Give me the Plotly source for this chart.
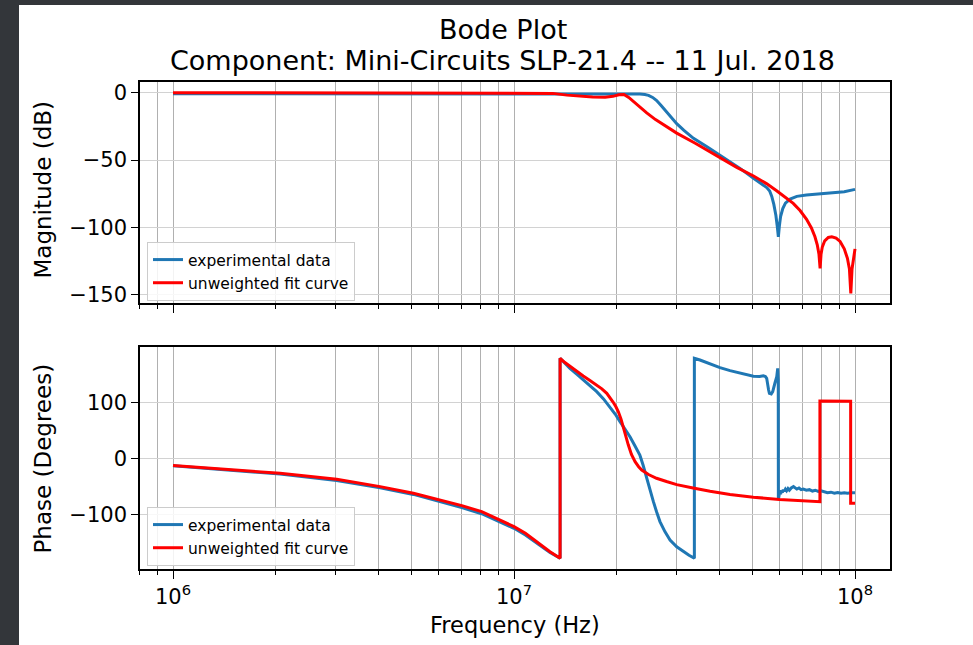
import plotly.graph_objects as go

# ---------------- data ----------------
mag_exp_freq = [1.0e6, 2.0e6, 5.0e6, 1.0e7, 1.5e7, 2.0e7, 2.34e7, 2.42e7, 2.48e7, 2.55e7,
                2.62e7, 2.7e7, 2.81e7, 2.9e7, 3.0e7, 3.15e7, 3.36e7, 3.7e7, 4.02e7, 4.3e7,
                4.6e7, 5.04e7, 5.3e7, 5.51e7, 5.62e7, 5.7e7, 5.78e7, 5.86e7, 5.92e7, 5.96e7,
                6.0e7, 6.05e7, 6.14e7, 6.25e7, 6.45e7, 6.75e7, 7.2e7, 7.55e7, 8.1e7, 8.64e7,
                9.3e7, 1.0e8]
mag_exp_db = [-0.8, -0.8, -0.8, -0.7, -0.7, -0.8, -1.0, -1.3, -2.0, -3.5,
              -5.8, -9.5, -14.5, -18.5, -23.0, -28.0, -33.9, -40.5, -46.3, -51.5,
              -56.2, -63.6, -67.5, -70.5, -73.0, -77.0, -83.0, -91.0, -100.0, -107.0,
              -99.0, -92.0, -86.0, -82.0, -79.0, -77.0, -76.0, -75.5, -75.0, -74.3,
              -73.5, -71.8]

mag_fit_freq = [1.0e6, 3.0e6, 1.0e7, 1.3e7, 1.43e7, 1.56e7, 1.7e7, 1.85e7, 1.95e7, 2.03e7,
                2.1e7, 2.17e7, 2.25e7, 2.35e7, 2.45e7, 2.6e7, 2.8e7, 3.0e7, 3.4e7, 4.02e7,
                4.5e7, 5.04e7, 5.5e7, 5.89e7, 6.25e7, 6.59e7, 6.9e7, 7.21e7, 7.45e7, 7.63e7,
                7.75e7, 7.84e7, 7.9e7, 7.95e7, 8.02e7, 8.15e7, 8.35e7, 8.55e7, 8.8e7, 9.04e7,
                9.3e7, 9.5e7, 9.63e7, 9.72e7, 9.8e7, 9.89e7, 1.0e8]
mag_fit_db = [0.0, -0.1, 0.0, -0.5, -1.8, -2.6, -3.2, -3.3, -2.7, -1.6,
              -1.3, -3.5, -7.0, -11.0, -15.0, -20.0, -25.5, -30.0, -37.5, -48.5,
              -55.5, -61.9, -67.5, -72.8, -77.5, -82.2, -87.5, -94.0, -100.5, -107.0,
              -113.0, -120.0, -130.5, -120.0, -114.5, -110.0, -107.5, -107.0, -108.0, -110.5,
              -116.0, -123.0, -131.0, -149.0, -131.0, -123.0, -116.0]

ph_exp_freq = [1.0e6, 1.5e6, 2.06e6, 3.02e6, 4.05e6, 5.07e6, 6.07e6, 7.03e6, 8.04e6, 9.1e6,
               1.0e7, 1.08e7, 1.164e7, 1.22e7, 1.275e7, 1.365e7, 1.365e7, 1.41e7, 1.459e7, 1.53e7,
               1.596e7, 1.67e7, 1.748e7, 1.83e7, 1.912e7, 1.98e7, 2.046e7, 2.115e7, 2.188e7, 2.26e7,
               2.339e7, 2.39e7, 2.449e7, 2.5e7, 2.563e7, 2.62e7, 2.679e7, 2.77e7, 2.868e7, 3.0e7,
               3.137e7, 3.26e7, 3.38e7, 3.38e7, 3.51e7, 3.758e7, 4.018e7, 4.3e7, 4.6e7, 5.035e7,
               5.25e7, 5.383e7, 5.46e7, 5.508e7, 5.58e7, 5.61e7, 5.68e7, 5.737e7, 5.821e7, 5.87e7,
               5.895e7, 5.933e7, 5.955e7, 5.96e7, 5.99e7, 6.02e7, 6.05e7, 6.08e7, 6.12e7, 6.16e7,
               6.2e7, 6.25e7, 6.3e7, 6.36e7, 6.42e7, 6.5e7, 6.6e7, 6.68e7, 6.75e7, 6.85e7,
               6.95e7, 7.05e7, 7.2e7, 7.35e7, 7.5e7, 7.65e7, 7.8e7, 7.95e7, 8.1e7, 8.3e7,
               8.5e7, 8.7e7, 8.9e7, 9.1e7, 9.3e7, 9.5e7, 9.75e7, 1.0e8]
ph_exp_deg = [-13.5, -21.0, -28.0, -39.5, -52.5, -64.5, -77.0, -88.0, -99.0, -113.0,
              -125.0, -137.0, -151.0, -160.0, -168.0, -178.6, 178.6, 170.0, 160.7, 150.0,
              139.8, 129.5, 119.0, 106.0, 92.0, 79.0, 65.4, 52.0, 38.6, 23.0,
              5.9, -12.0, -35.7, -56.0, -77.5, -96.0, -113.0, -131.0, -146.0, -158.0,
              -166.8, -173.0, -178.6, 178.6, 175.5, 168.0, 162.0, 156.5, 151.8, 146.5,
              146.0, 147.5, 146.0, 142.9, 122.0, 116.0, 115.0, 119.0, 134.0, 142.0,
              145.7, 160.7, 140.0, -74.5, -62.0, -57.0, -64.0, -58.0, -61.0, -56.0,
              -59.0, -55.0, -58.0, -54.0, -57.0, -53.0, -50.6, -53.0, -55.0, -53.0,
              -56.0, -55.0, -57.0, -56.0, -58.5, -57.0, -59.0, -58.0, -60.0, -61.5,
              -60.5, -62.5, -61.0, -62.5, -61.5, -62.5, -61.5, -61.4]

ph_fit_freq = [1.0e6, 1.5e6, 2.06e6, 3.02e6, 4.05e6, 5.07e6, 6.07e6, 7.03e6, 8.04e6, 9.1e6,
               1.0e7, 1.08e7, 1.164e7, 1.22e7, 1.275e7, 1.365e7, 1.365e7, 1.41e7, 1.459e7, 1.53e7,
               1.596e7, 1.67e7, 1.748e7, 1.81e7, 1.871e7, 1.92e7, 1.954e7, 1.99e7, 2.023e7, 2.06e7,
               2.093e7, 2.13e7, 2.163e7, 2.21e7, 2.265e7, 2.32e7, 2.369e7, 2.48e7, 2.618e7, 2.8e7,
               3.0e7, 3.35e7, 3.758e7, 4.3e7, 5.035e7, 6.0e7, 7.0e7, 7.89e7, 7.89e7, 9.71e7,
               9.71e7, 1.0e8]
ph_fit_deg = [-13.0, -20.5, -26.8, -37.5, -50.6, -62.5, -74.5, -84.6, -95.3, -110.0,
              -122.0, -134.0, -149.0, -158.0, -166.8, -178.6, 178.6, 171.0, 164.0, 155.0,
              147.0, 139.0, 131.0, 124.0, 116.0, 107.0, 100.0, 92.0, 83.0, 70.0,
              54.0, 38.0, 24.0, 7.0, -6.0, -15.0, -21.0, -29.0, -35.7, -41.5,
              -47.0, -53.0, -59.0, -64.5, -69.5, -73.5, -76.0, -77.5, 102.3, 101.8,
              -80.4, -80.4]

series_names = ["experimental data", "unweighted fit curve"]
major_ticks = [1e6, 1e7, 1e8]
major_text = ["10<sup>6</sup>", "10<sup>7</sup>", "10<sup>8</sup>"]
minor_ticks = [m * 10 ** e for e in (5, 6, 7) for m in range(2, 10) if 7.9e5 < m * 10 ** e < 1.27e8]

# ---------------- styling ----------------
BLUE = "#1f77b4"
RED = "#ff0000"
FONT = "DejaVu Sans"
W, H = 973, 645
L, R, T, B = 140, 83, 82, 76
PH = H - T - B
PW = W - L - R


def py(ypix):
    return (H - B - ypix) / PH


def px(xpix):
    return (xpix - L) / PW


fig = go.Figure()
fig.add_trace(go.Scatter(x=mag_exp_freq, y=mag_exp_db, mode="lines", name=series_names[0],
                         line=dict(color=BLUE, width=3), xaxis="x", yaxis="y", legend="legend"))
fig.add_trace(go.Scatter(x=mag_fit_freq, y=mag_fit_db, mode="lines", name=series_names[1],
                         line=dict(color=RED, width=3), xaxis="x", yaxis="y", legend="legend"))
fig.add_trace(go.Scatter(x=ph_exp_freq, y=ph_exp_deg, mode="lines", name=series_names[0],
                         line=dict(color=BLUE, width=3), xaxis="x2", yaxis="y2", legend="legend2"))
fig.add_trace(go.Scatter(x=ph_fit_freq, y=ph_fit_deg, mode="lines", name=series_names[1],
                         line=dict(color=RED, width=3), xaxis="x2", yaxis="y2", legend="legend2"))

xcommon = dict(
    type="log", range=[5.9032, 8.1026], domain=[0, 1],
    showline=True, mirror=True, linecolor="black", linewidth=1.5,
    ticks="outside", ticklen=8, tickwidth=1.3, tickcolor="black",
    tickmode="array", tickvals=major_ticks, ticktext=major_text,
    showgrid=True, gridcolor="#b0b0b0", gridwidth=1,
    minor=dict(tickmode="array", tickvals=minor_ticks, ticks="outside", ticklen=4,
               tickwidth=1, tickcolor="black", showgrid=True, gridcolor="#b0b0b0", gridwidth=1),
    tickfont=dict(family=FONT, size=21, color="black"), zeroline=False,
)
ycommon = dict(
    showline=True, mirror=True, linecolor="black", linewidth=1.5,
    ticks="outside", ticklen=7, tickwidth=1.3, tickcolor="black",
    showgrid=True, gridcolor="#d2d2d2", gridwidth=1, zeroline=False,
    tickfont=dict(family=FONT, size=21, color="black"),
)

legend_common = dict(xanchor="left", yanchor="top", bgcolor="rgba(255,255,255,0.85)",
                     bordercolor="#cccccc", borderwidth=1,
                     font=dict(family=FONT, size=15.5, color="black"))

fig.update_layout(
    width=W, height=H,
    margin=dict(l=L, r=R, t=T, b=B, pad=0),
    paper_bgcolor="white", plot_bgcolor="white",
    font=dict(family=FONT, color="black"),
    xaxis=dict(xcommon, anchor="y", showticklabels=False),
    yaxis=dict(ycommon, domain=[py(303), 1], range=[-156.2, 7.95], tickmode="linear", tick0=0, dtick=50),
    xaxis2=dict(xcommon, anchor="y2", showticklabels=True),
    yaxis2=dict(ycommon, domain=[0, py(347)], range=[-197.7, 198.75], tickmode="linear", tick0=0, dtick=100),
    legend=dict(legend_common, x=px(147), y=py(242)),
    legend2=dict(legend_common, x=px(147), y=py(507)),
    showlegend=True,
)

annotations = [
    dict(text="Bode Plot", x=px(502.5), y=py(30), size=27),
    dict(text="Component: Mini-Circuits SLP-21.4 -- 11 Jul. 2018", x=px(502.5), y=py(60), size=27),
    dict(text="Magnitude (dB)", x=px(42), y=py(189.5), size=23, angle=-90),
    dict(text="Phase (Degrees)", x=px(42), y=py(458.5), size=23, angle=-90),
    dict(text="Frequency (Hz)", x=px(515), y=py(625), size=22.5),
]
for a in annotations:
    fig.add_annotation(text=a["text"], xref="paper", yref="paper", x=a["x"], y=a["y"],
                       xanchor="center", yanchor="middle", showarrow=False,
                       textangle=a.get("angle", 0),
                       font=dict(family=FONT, size=a["size"], color="black"))

# dark page border strips (left and top) seen around the figure
fig.add_shape(type="rect", xref="paper", yref="paper", x0=px(0), x1=px(19), y0=py(H), y1=py(0),
              fillcolor="#33363a", line=dict(width=0), layer="below")
fig.add_shape(type="rect", xref="paper", yref="paper", x0=px(0), x1=px(W), y0=py(5), y1=py(0),
              fillcolor="#33363a", line=dict(width=0), layer="below")

fig.write_html("out.html", config={"displayModeBar": False})
